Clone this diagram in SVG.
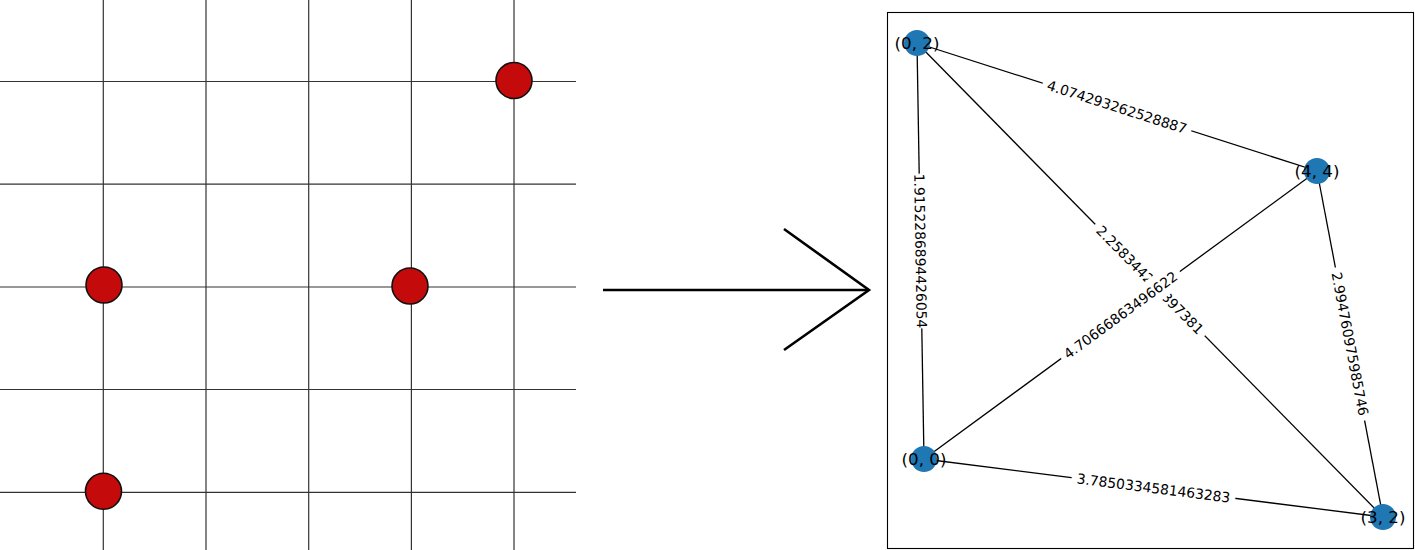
<svg xmlns="http://www.w3.org/2000/svg" width="1415" height="550" viewBox="0 0 1415 550">
<style>
.grid line{stroke:#333;stroke-width:1.2}
.dot{fill:#c40a0a;stroke:#111;stroke-width:1.6}
.edge{stroke:#000;stroke-width:1.3;fill:none}
.lbox{fill:#fff;stroke:#fff}
.ltxt{font-family:"DejaVu Sans",sans-serif;font-size:13.9px;fill:#000;text-anchor:middle}
.node{fill:#1f77b4}
.ntxt{font-family:"DejaVu Sans",sans-serif;font-size:16.7px;fill:#000;text-anchor:middle}
</style>
<rect width="1415" height="550" fill="#fff"/>
<g id="grid" class="grid">
<line x1="103.3" y1="0" x2="103.3" y2="550"/>
<line x1="206" y1="0" x2="206" y2="550"/>
<line x1="308.7" y1="0" x2="308.7" y2="550"/>
<line x1="411.4" y1="0" x2="411.4" y2="550"/>
<line x1="514" y1="0" x2="514" y2="550"/>
<line x1="0" y1="81.5" x2="576" y2="81.5"/>
<line x1="0" y1="184.2" x2="576" y2="184.2"/>
<line x1="0" y1="287" x2="576" y2="287"/>
<line x1="0" y1="389.5" x2="576" y2="389.5"/>
<line x1="0" y1="492.3" x2="576" y2="492.3"/>
</g>
<g id="points">
<circle class="dot" cx="514" cy="80.5" r="18"/>
<circle class="dot" cx="104" cy="285" r="18"/>
<circle class="dot" cx="410" cy="286" r="18"/>
<circle class="dot" cx="103.5" cy="491.3" r="18"/>
</g>
<g id="arrow" stroke="#000" stroke-width="2.6" fill="none">
<line x1="603" y1="290" x2="869" y2="290"/>
<polyline points="784,229 869,290 784,350"/>
</g>
<rect id="frame" x="887.5" y="12.5" width="526" height="536" fill="none" stroke="#000" stroke-width="1.1"/>
<g id="connectors">
<line class="edge" x1="917" y1="43" x2="1317" y2="171"/>
<line class="edge" x1="917" y1="43" x2="924" y2="459"/>
<line class="edge" x1="917" y1="43" x2="1383" y2="517"/>
<line class="edge" x1="1317" y1="171" x2="924" y2="459"/>
<line class="edge" x1="1317" y1="171" x2="1383" y2="517"/>
<line class="edge" x1="924" y1="459" x2="1383" y2="517"/>
</g>
<g id="edge-labels">
<g transform="rotate(17.75 1117 107)"><rect class="lbox" x="1039.5" y="95" width="155" height="24" rx="4"/><text class="ltxt" x="1117" y="107" dy="0.36em">4.074293262528887</text></g>
<g transform="rotate(89.04 920.5 251)"><rect class="lbox" x="843.5" y="239" width="154" height="24" rx="4"/><text class="ltxt" x="920.5" y="251" dy="0.36em">1.9152286894426054</text></g>
<g transform="rotate(45.4 1150 280)"><rect class="lbox" x="1072.5" y="268" width="155" height="24" rx="4"/><text class="ltxt" x="1150" y="280" dy="0.36em">2.258344253397381</text></g>
<g transform="rotate(-36.23 1120.5 315)"><rect class="lbox" x="1047.5" y="303" width="146" height="24" rx="4"/><text class="ltxt" x="1120.5" y="315" dy="0.36em">4.70666863496622</text></g>
<g transform="rotate(79.17 1350 344)"><rect class="lbox" x="1272.5" y="332" width="155" height="24" rx="4"/><text class="ltxt" x="1350" y="344" dy="0.36em">2.994760975985746</text></g>
<g transform="rotate(7.2 1153.5 488)"><rect class="lbox" x="1071.5" y="476" width="164" height="24" rx="4"/><text class="ltxt" x="1153.5" y="488" dy="0.36em">3.7850334581463283</text></g>
</g>
<g id="node-02"><circle class="node" cx="917" cy="43" r="13"/><text class="ntxt" x="917" y="43" dy="0.33em">(0, 2)</text></g>
<g id="node-44"><circle class="node" cx="1317" cy="171" r="13"/><text class="ntxt" x="1317" y="171" dy="0.33em">(4, 4)</text></g>
<g id="node-00"><circle class="node" cx="924" cy="459" r="13"/><text class="ntxt" x="924" y="459" dy="0.33em">(0, 0)</text></g>
<g id="node-32"><circle class="node" cx="1383" cy="517" r="13"/><text class="ntxt" x="1383" y="517" dy="0.33em">(3, 2)</text></g>
</svg>
